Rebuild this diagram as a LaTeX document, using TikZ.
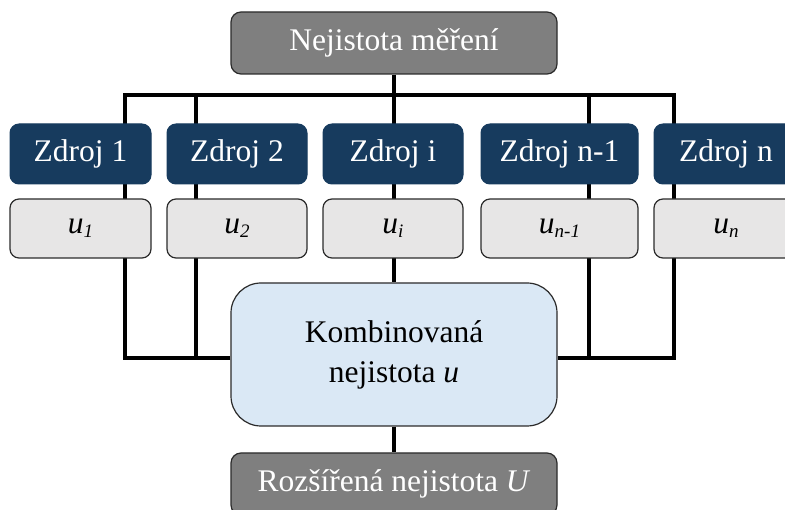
\documentclass[tikz,border=0pt]{standalone}
\usepackage{fontspec}
\setmainfont{Liberation Serif}
\newfontfamily\tnr{Liberation Serif}
\usetikzlibrary{backgrounds}
\definecolor{topgray}{HTML}{7F7F7F}
\definecolor{srcblue}{HTML}{173B5E}
\definecolor{ugray}{HTML}{E7E6E6}
\definecolor{combblue}{HTML}{DAE8F5}
\definecolor{edgecol}{HTML}{2B2B2B}
\newcommand{\usub}[1]{\textit{u}\raisebox{-4pt}{\fontsize{19}{19}\selectfont\textit{#1}}}
\begin{document}
\begin{tikzpicture}[x=1pt,y=-1pt,
  bigfont/.style={font=\tnr\fontsize{31.5}{40}\selectfont},
  graybox/.style={bigfont, draw=edgecol, line width=1.2pt, fill=topgray, rounded corners=10pt,
    minimum width=326pt, minimum height=62pt, inner sep=0pt, text=white},
  srcbox/.style={bigfont, draw=srcblue, line width=1pt, fill=srcblue, rounded corners=9pt,
    minimum height=60pt, inner sep=0pt, text=white},
  ubox/.style={bigfont, draw=edgecol, line width=1.2pt, fill=ugray, rounded corners=9pt,
    minimum height=59pt, inner sep=0pt, text=black},
  combbox/.style={bigfont, draw=edgecol, line width=1.2pt, fill=combblue, rounded corners=30pt,
    minimum width=326pt, minimum height=143pt, inner sep=0pt, align=center, text=black},
  conn/.style={line width=3.8pt, draw=black, line join=miter}]
\useasboundingbox (0,0) rectangle (785,510);
\clip (0,0) rectangle (785,510);

\node[graybox] (top) at (394,43) {Nejistota měření};

\node[srcbox, minimum width=141pt] (s1) at (80.5,154) {Zdroj 1};
\node[srcbox, minimum width=140pt] (s2) at (237,154) {Zdroj 2};
\node[srcbox, minimum width=140pt] (s3) at (393,154) {Zdroj i};
\node[srcbox, minimum width=157pt] (s4) at (559.5,154) {Zdroj n-1};
\node[srcbox, minimum width=144pt] (s5) at (726,154) {Zdroj n};

\node[ubox, minimum width=141pt] (u1) at (80.5,228.5) {\usub{1}};
\node[ubox, minimum width=140pt] (u2) at (237,228.5) {\usub{2}};
\node[ubox, minimum width=140pt] (u3) at (393,228.5) {\usub{i}};
\node[ubox, minimum width=157pt] (u4) at (559.5,228.5) {\usub{n-1}};
\node[ubox, minimum width=144pt] (u5) at (726,228.5) {\usub{n}};

\node[combbox] (comb) at (394,354.5) {Kombinovaná\\nejistota \textit{u}};
\node[graybox] (bot) at (394,484) {Rozšířená nejistota \textit{U}};

\coordinate (h1) at (125,95);
\coordinate (h2) at (196,95);
\coordinate (h4) at (589,95);
\coordinate (h5) at (674,95);
\coordinate (l1) at (125,358);
\coordinate (l2) at (196,358);
\coordinate (l4) at (589,358);
\coordinate (l5) at (674,358);

\begin{scope}[on background layer]
  \draw[conn] (top.south) -- (comb.north);
  \draw[conn] (comb.west |- l1) -- (l1) -- (h1) -- (h5) -- (l5) -- (comb.east |- l5);
  \draw[conn] (h2) -- (l2);
  \draw[conn] (h4) -- (l4);
  \draw[conn] (comb.south) -- (bot.north);
\end{scope}
\end{tikzpicture}
\end{document}
